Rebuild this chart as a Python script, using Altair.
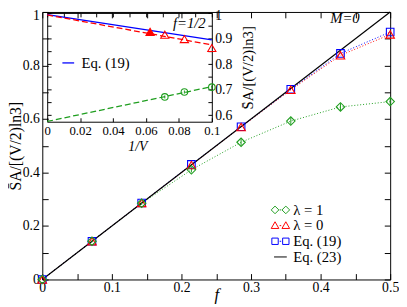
import altair as alt
import pandas as pd

# ---------------- data ----------------
f_vals = [0, 1/14, 2/14, 3/14, 4/14, 5/14, 6/14, 7/14]
lam1_vals = [0.0, 0.143, 0.285, 0.410, 0.513, 0.592, 0.645, 0.665]
lam1_errs = [0.0, 0.004, 0.006, 0.010, 0.012, 0.013, 0.014, 0.014]
lam0_vals = [0.0, 0.143, 0.286, 0.428, 0.570, 0.709, 0.838, 0.916]
eq19_vals = [0.0, 0.143, 0.286, 0.430, 0.571, 0.711, 0.845, 0.925]
eq23_f = [0.0, 0.5]
eq23_vals = [0.0, 1.0]

inv_v_lam0 = [1/16, 1/14, 1/12, 1/10]
inset_lam0 = [0.926, 0.915, 0.898, 0.863]
inv_v_lam1 = [1/14, 1/12, 1/10]
inset_lam1 = [0.672, 0.691, 0.710]
inset_lam1_errs = [0.006, 0.006, 0.007]
fit_x = [0.0, 0.1]
fit_lam0 = [0.992, 0.875]
fit_lam1 = [0.576, 0.712]
inset_eq19 = [0.993, 0.895]

legend_names = ["λ = 1", "λ = 0", "Eq. (19)", "Eq. (23)"]
inset_legend_names = ["Eq. (19)"]

YTITLE = "S\u0304A/[(V/2)ln3]"

# ---------------- style / layout ----------------
SERIF = "Liberation Serif, Times New Roman, serif"
GREEN, RED, BLUE = "#1f9e1f", "#ff0000", "#0000ff"
W, H = 355, 273
IX0, IX1 = 5, 173     # inset x pixel range inside plot
IY0, IY1 = 1, 112     # inset y pixel range (top, bottom)

mx = alt.Scale(domain=[0, 0.5], nice=False)
my = alt.Scale(domain=[0, 1], nice=False)
ix = alt.Scale(domain=[0, 0.1], range=[IX0, IX1], nice=False)
iy = alt.Scale(domain=[0.575, 1.0], range=[IY1, IY0], nice=False)

major_x = [0, 0.1, 0.2, 0.3, 0.4, 0.5]
minor_x = [round(i * 0.05, 2) for i in range(11)]
major_y = [0, 0.2, 0.4, 0.6, 0.8, 1.0]
minor_y = [round(i * 0.1, 1) for i in range(11)]
inset_major_x = [0, 0.02, 0.04, 0.06, 0.08, 0.1]
inset_minor_x = [round(i * 0.01, 2) for i in range(11)]
inset_major_y = [0.6, 0.7, 0.8, 0.9, 1.0]
inset_minor_y = [round(0.6 + i * 0.05, 2) for i in range(9)]


def axdef(orient, values, offset=0, labels=False, ticks=True, domain=True, tick_size=6, **kw):
    d = dict(orient=orient, values=values, offset=offset, labels=labels, ticks=ticks,
             domain=domain, grid=False, title=None, domainColor="black", domainWidth=1,
             tickColor="black", tickWidth=1, tickSize=tick_size if ticks else 0,
             labelFont=SERIF, labelColor="black", titleFont=SERIF, titleColor="black",
             titleFontWeight="normal", labelFlush=False, labelOverlap=False)
    d.update(kw)
    return alt.Axis(**d)


dummy = pd.DataFrame({"x": [0.05], "y": [0.8]})


def axis_layer(xs, ys, xaxis, yaxis):
    return alt.Chart(dummy).mark_point(opacity=0).encode(
        x=alt.X("x:Q", scale=xs, axis=xaxis),
        y=alt.Y("y:Q", scale=ys, axis=yaxis))


one_offset = lambda v: {"condition": {"test": "datum.value == 1", "value": v}, "value": 0}

# main axes
main_lab = axis_layer(
    mx, my,
    axdef("bottom", major_x, labels=True, ticks=False, labelFontSize=14, labelPadding=1,
          format="~g", title="f", titleFontStyle="italic", titleFontSize=17,
          titleX=W / 2, titleY=15, titleBaseline="middle", titleAlign="center"),
    axdef("left", major_y, labels=True, ticks=False, labelFontSize=14, labelPadding=3,
          format="~g", labelOffset=one_offset(4), title=YTITLE, titleFontSize=16,
          titleAngle=270, titleX=-27, titleY=H / 2, titleAlign="center",
          titleBaseline="middle"))
main_tin = axis_layer(mx, my,
                      axdef("top", minor_x, offset=-H, domain=False),
                      axdef("right", minor_y, offset=-W, domain=False))
main_border = axis_layer(mx, my,
                         axdef("bottom", minor_x, offset=-H),
                         axdef("left", minor_y, offset=-W))

# inset axes
inset_lab = axis_layer(
    ix, iy,
    axdef("bottom", inset_major_x, offset=IY1 - H, labels=True, ticks=False,
          labelFontSize=13, labelPadding=3, format="~g", title="1/V",
          titleFontStyle="italic", titleFontSize=14, titleX=97, titleY=25,
          titleBaseline="middle", titleAlign="center"),
    axdef("right", inset_major_y, offset=IX1 - W, labels=True, ticks=False,
          labelFontSize=14, labelPadding=3, format="~g", labelOffset=one_offset(3),
          title=YTITLE, titleFontSize=15, titleAngle=270, titleX=37,
          titleY=(IY0 + IY1) / 2, titleAlign="center", titleBaseline="middle"))
inset_tin = axis_layer(ix, iy,
                       axdef("top", inset_major_x, offset=-IY1, domain=False, tick_size=4),
                       axdef("left", inset_minor_y, offset=-IX1, domain=False, tick_size=4))
inset_border = axis_layer(ix, iy,
                          axdef("bottom", inset_minor_x, offset=IY0 - H, tick_size=4),
                          axdef("right", inset_minor_y, offset=IX0 - W, tick_size=4))

# ---------------- main data layers ----------------
main_df = pd.DataFrame({"f": f_vals, "lam1": lam1_vals, "err": lam1_errs,
                        "lam0": lam0_vals, "eq19": eq19_vals})
eq23_df = pd.DataFrame({"f": eq23_f, "v": eq23_vals})


def mxy(col):
    return dict(x=alt.X("f:Q", scale=mx, axis=None),
                y=alt.Y(f"{col}:Q", scale=my, axis=None))


base = alt.Chart(main_df)
dots = [1, 2]
line_g = base.mark_line(color=GREEN, strokeDash=dots, strokeWidth=1).encode(**mxy("lam1"))
line_r = base.mark_line(color=RED, strokeDash=dots, strokeWidth=1).encode(**mxy("lam0"))
line_b = base.mark_line(color=BLUE, strokeDash=dots, strokeWidth=1).encode(**mxy("eq19"))
line_k = alt.Chart(eq23_df).mark_line(color="black", strokeWidth=1.2).encode(
    x=alt.X("f:Q", scale=mx, axis=None), y=alt.Y("v:Q", scale=my, axis=None))
err_g = base.transform_calculate(lo="datum.lam1 - datum.err", hi="datum.lam1 + datum.err") \
    .mark_rule(color=GREEN, strokeWidth=1).encode(
        x=alt.X("f:Q", scale=mx, axis=None),
        y=alt.Y("lo:Q", scale=my, axis=None), y2="hi:Q")
pts_b = base.mark_point(shape="square", size=60, color=BLUE, filled=False, opacity=1,
                        strokeWidth=1.1).encode(**mxy("eq19"))
pts_r = base.mark_point(shape="triangle-up", size=75, color=RED, filled=False, opacity=1,
                        strokeWidth=1.1).encode(**mxy("lam0"))
pts_g = base.mark_point(shape="diamond", size=75, color=GREEN, filled=False, opacity=1,
                        strokeWidth=1.1).encode(**mxy("lam1"))

# ---------------- inset data layers ----------------
fit_df = pd.DataFrame({"x": fit_x, "lam0": fit_lam0, "lam1": fit_lam1, "eq19": inset_eq19})
in0_df = pd.DataFrame({"x": inv_v_lam0, "v": inset_lam0})
in1_df = pd.DataFrame({"x": inv_v_lam1, "v": inset_lam1, "err": inset_lam1_errs})


def ixy(col, xcol="x"):
    return dict(x=alt.X(f"{xcol}:Q", scale=ix, axis=None),
                y=alt.Y(f"{col}:Q", scale=iy, axis=None))


fitb = alt.Chart(fit_df)
in_blue = fitb.mark_line(color=BLUE, strokeWidth=1.3).encode(**ixy("eq19"))
in_red = fitb.mark_line(color=RED, strokeWidth=1.3, strokeDash=[6, 3]).encode(**ixy("lam0"))
in_green = fitb.mark_line(color=GREEN, strokeWidth=1.3, strokeDash=[6, 3]).encode(**ixy("lam1"))
in_pts_r = alt.Chart(in0_df).mark_point(shape="triangle-up", size=70, color=RED, filled=False,
                                        opacity=1, strokeWidth=1.1).encode(**ixy("v"))
in_pts_r_fill = alt.Chart(in0_df).transform_filter("datum.x < 0.065").mark_point(
    shape="triangle-up", size=70, color=RED, filled=True, opacity=1).encode(**ixy("v"))
in_err_g = alt.Chart(in1_df).transform_calculate(lo="datum.v - datum.err", hi="datum.v + datum.err") \
    .mark_rule(color=GREEN, strokeWidth=1).encode(
        x=alt.X("x:Q", scale=ix, axis=None),
        y=alt.Y("lo:Q", scale=iy, axis=None), y2="hi:Q")
in_pts_g = alt.Chart(in1_df).mark_point(shape="circle", size=45, color=GREEN, filled=False,
                                        opacity=1, strokeWidth=1.1).encode(**ixy("v"))

# ---------------- annotations ----------------
txt_main = alt.Chart(pd.DataFrame({"x": [0.435], "y": [0.978], "t": ["M=0"]})).mark_text(
    font=SERIF, fontSize=15, fontStyle="italic", color="black").encode(
    x=alt.X("x:Q", scale=mx, axis=None), y=alt.Y("y:Q", scale=my, axis=None), text="t:N")
txt_inset = alt.Chart(pd.DataFrame({"x": [0.0863], "y": [0.962], "t": ["f=1/2"]})).mark_text(
    font=SERIF, fontSize=15, fontStyle="italic", color="black").encode(
    x=alt.X("x:Q", scale=ix, axis=None), y=alt.Y("y:Q", scale=iy, axis=None), text="t:N")

# ---------------- legends ----------------
c = 0.846
dia = lambda cx: f"M{cx-0.6:.3f},0L{cx:.3f},-0.6L{cx+0.6:.3f},0L{cx:.3f},0.6Z"
tri = lambda cx: f"M{cx-0.6:.3f},0.45L{cx+0.6:.3f},0.45L{cx:.3f},-0.6Z"
sq = lambda cx: f"M{cx-0.5:.3f},-0.5L{cx+0.5:.3f},-0.5L{cx+0.5:.3f},0.5L{cx-0.5:.3f},0.5Z"
dot = "M-0.12,0L0.12,0"
paths = [dia(-c) + dia(c) + dot, tri(-c) + tri(c) + dot, sq(-c) + sq(c) + dot, "M-1,0L1,0"]

main_leg = alt.Legend(title=None, orient="none", legendX=235.5, legendY=194.5,
                      symbolSize=169, symbolStrokeWidth=1, labelFont=SERIF,
                      labelFontSize=15, labelColor="black", labelOffset=5.5,
                      rowPadding=-1, padding=0)
legend_layer = alt.Chart(pd.DataFrame({"s": legend_names})).transform_filter("false") \
    .mark_point(filled=False, opacity=1).encode(
        color=alt.Color("s:N", scale=alt.Scale(domain=legend_names,
                                               range=[GREEN, RED, BLUE, "black"]),
                        legend=main_leg),
        shape=alt.Shape("s:N", scale=alt.Scale(domain=legend_names, range=paths),
                        legend=main_leg))

inset_leg = alt.Legend(title=None, orient="none", legendX=19, legendY=44.5,
                       symbolSize=144, symbolStrokeWidth=1.3, labelFont=SERIF,
                       labelFontSize=15, labelColor="black", labelOffset=6, padding=0)
inset_legend_layer = alt.Chart(pd.DataFrame({"s": inset_legend_names})).transform_filter("false") \
    .mark_point(filled=False, opacity=1).encode(
        color=alt.Color("s:N", scale=alt.Scale(domain=inset_legend_names, range=[BLUE]),
                        legend=inset_leg),
        shape=alt.Shape("s:N", scale=alt.Scale(domain=inset_legend_names, range=["M-1,0L1,0"]),
                        legend=inset_leg))

chart = alt.layer(
    main_lab, main_tin, main_border,
    inset_lab, inset_tin, inset_border,
    line_g, line_r, line_b, line_k, err_g, pts_b, pts_r, pts_g,
    in_blue, in_red, in_green, in_err_g, in_pts_g, in_pts_r, in_pts_r_fill,
    txt_main, txt_inset,
    legend_layer, inset_legend_layer,
).resolve_scale(
    x="independent", y="independent", color="independent", shape="independent"
).properties(
    width=W, height=H,
    autosize=alt.AutoSizeParams(type="none"),
    padding={"left": 35, "top": 1, "right": 9, "bottom": 24},
).configure_view(stroke=None)

chart.save("out.html", embed_options={"renderer": "svg", "actions": False})
